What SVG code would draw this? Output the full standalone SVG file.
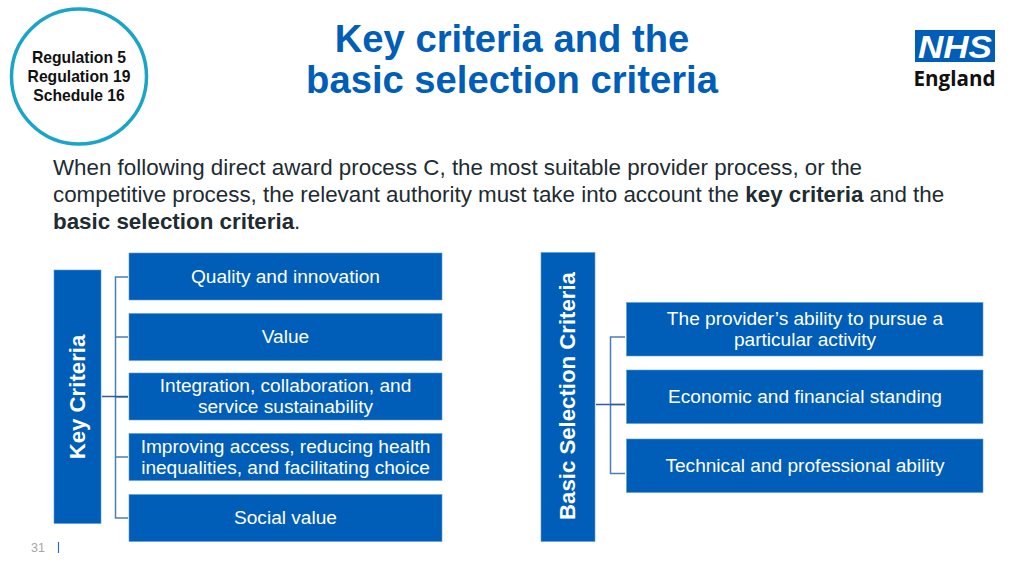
<svg xmlns="http://www.w3.org/2000/svg" width="1024" height="576" viewBox="0 0 1024 576">
<style>
text{font-family:"Liberation Sans",Arial,sans-serif}
.box{fill:#005eb8;stroke:#5b9bd5;stroke-width:.6}
.w{fill:#fff;font-size:19.1px;text-anchor:middle}
.v{fill:#fff;font-size:22.2px;font-weight:700;text-anchor:middle}
.t{fill:#005eb8;font-size:38.200px;font-weight:700;text-anchor:middle}
.b{fill:#212b32;font-size:22.370px}
.r{fill:#111;font-size:15.700px;font-weight:700;text-anchor:middle}
.c{fill:none;stroke:#4a7fb5;stroke-width:1.500}
</style>
<rect width="1024" height="576" fill="#fff"/>
<g id="badge">
<circle cx="79" cy="76.500" r="67.500" fill="#fff" stroke="#1aa5c8" stroke-width="3.500"/>
<text class="r" x="79" y="63">Regulation 5</text>
<text class="r" x="79" y="82">Regulation 19</text>
<text class="r" x="79" y="101">Schedule 16</text>
</g>
<g id="title">
<text class="t" x="512" y="51.500">Key criteria and the</text>
<text class="t" x="512" y="92.500">basic selection criteria</text>
</g>
<g id="logo">
<rect x="915" y="30" width="80" height="32" fill="#005eb8"/>
<text x="955" y="58" fill="#fff" font-size="32" font-weight="700" font-style="italic" text-anchor="middle" textLength="74" lengthAdjust="spacingAndGlyphs">NHS</text>
<text x="954.500" y="86" fill="#111" style="font-family:'Open Sans','Liberation Sans',sans-serif" font-size="21" font-weight="700" text-anchor="middle" textLength="82" lengthAdjust="spacingAndGlyphs">England</text>
</g>
<g id="intro">
<text class="b" x="53" y="175">When following direct award process C, the most suitable provider process, or the</text>
<text class="b" x="53" y="202">competitive process, the relevant authority must take into account the <tspan font-weight="700">key criteria</tspan> and the</text>
<text class="b" x="53" y="229"><tspan font-weight="700">basic selection criteria</tspan>.</text>
</g>
<g id="connectors">
<path class="c" d="M128 277H115.500V518H128M115.500 337H128M115.500 457H128M115.500 397H128"/>
<path d="M102 396.500H128" fill="none" stroke="#2f5f96" stroke-width="1.500"/>
<path class="c" d="M625 337H610.500V473.500H625M610.500 404.500H625"/>
<path d="M596 404.500H625" fill="none" stroke="#2f5f96" stroke-width="1.500"/>
</g>
<g id="key-criteria">
<rect class="box" x="54" y="270" width="47" height="253.500"/>
<text class="v" transform="translate(85 397) rotate(-90)">Key Criteria</text>
</g>
<g id="quality"><rect class="box" x="129" y="253" width="313" height="47"/><text class="w" x="285.500" y="283">Quality and innovation</text></g>
<g id="value"><rect class="box" x="129" y="313.500" width="313" height="47"/><text class="w" x="285.500" y="343">Value</text></g>
<g id="integration"><rect class="box" x="129" y="373" width="313" height="47"/><text class="w" x="285.500" y="392">Integration, collaboration, and</text><text class="w" x="285.500" y="413">service sustainability</text></g>
<g id="improving"><rect class="box" x="129" y="433.500" width="313" height="47"/><text class="w" x="285.500" y="453">Improving access, reducing health</text><text class="w" x="285.500" y="474">inequalities, and facilitating choice</text></g>
<g id="social"><rect class="box" x="129" y="494.500" width="313" height="47"/><text class="w" x="285.500" y="524">Social value</text></g>
<g id="basic-selection">
<rect class="box" x="541" y="252.500" width="54" height="289"/>
<text class="v" transform="translate(575 396) rotate(-90)">Basic Selection Criteria</text>
</g>
<g id="ability"><rect class="box" x="626.500" y="302.500" width="356.500" height="53.500"/><text class="w" x="805" y="325">The provider’s ability to pursue a</text><text class="w" x="805" y="346">particular activity</text></g>
<g id="economic"><rect class="box" x="626.500" y="370" width="356.500" height="53.500"/><text class="w" x="805" y="403">Economic and financial standing</text></g>
<g id="technical"><rect class="box" x="626.500" y="439" width="356.500" height="53.500"/><text class="w" x="805" y="472">Technical and professional ability</text></g>
<g id="page">
<text x="31" y="552" fill="#a6a6a6" font-size="12.500">31</text>
<path d="M58.500 542V553" stroke="#2f6fb0" stroke-width="1.200"/>
</g>
</svg>
